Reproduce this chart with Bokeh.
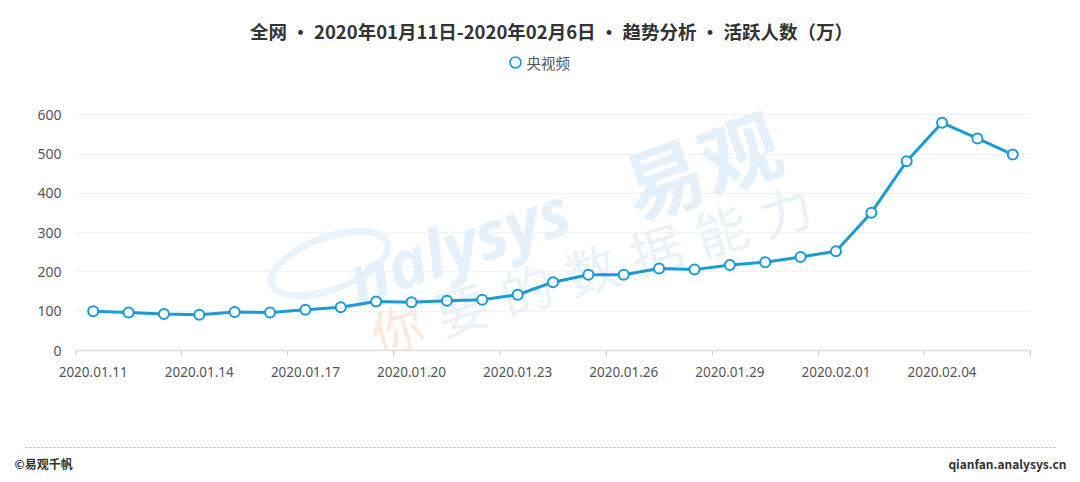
from bokeh.plotting import figure
from bokeh.layouts import column
from bokeh.models import Range1d, FixedTicker
from bokeh.core.properties import value
from bokeh.embed import file_html
from bokeh.resources import INLINE

# ---------------- data ----------------
title_text = "全网 • 2020年01月11日-2020年02月6日 • 趋势分析 • 活跃人数（万）"
series_name = "央视频"
dates = ["2020.01.11", "2020.01.12", "2020.01.13", "2020.01.14", "2020.01.15",
         "2020.01.16", "2020.01.17", "2020.01.18", "2020.01.19", "2020.01.20",
         "2020.01.21", "2020.01.22", "2020.01.23", "2020.01.24", "2020.01.25",
         "2020.01.26", "2020.01.27", "2020.01.28", "2020.01.29", "2020.01.30",
         "2020.01.31", "2020.02.01", "2020.02.02", "2020.02.03", "2020.02.04",
         "2020.02.05", "2020.02.06"]
active_users = [100, 97, 93, 91, 98, 97, 104, 110, 125, 123, 127, 129, 142, 174,
                193, 193, 209, 206, 218, 225, 238, 253, 351, 482, 580, 540, 499]
y_ticks = [0, 100, 200, 300, 400, 500, 600]
label_step = 3
footer_left = "©易观千帆"
footer_right = "qianfan.analysys.cn"
wm_brand = "nalysys"
wm_cn = "易观"
wm_slogan = "你要的数据能力"

BLUE = "#1b9ad8"
CJK = "Noto Sans CJK SC"
W = 1080

# ---------------- header ----------------
HH = 75
head = figure(width=W, height=HH, output_backend="svg", toolbar_location=None,
              x_range=Range1d(0, W), y_range=Range1d(HH, 0),
              min_border=0, outline_line_color=None)
head.frame_align = False
head.axis.visible = False
head.grid.visible = False
head.text(x=[551], y=[30], text=[title_text], text_font=value(CJK),
          text_font_size="18.5px", text_font_style="bold", text_color="#333333",
          text_align="center", text_baseline="middle")
head.scatter(x=[515], y=[62], size=11, fill_color="white", line_color=BLUE, line_width=1.6)
head.text(x=[526], y=[62], text=[series_name], text_font=value(CJK),
          text_font_size="14.5px", text_color="#555555",
          text_align="left", text_baseline="middle")

# ---------------- main chart ----------------
n = len(dates)
xs = list(range(n))
p = figure(width=W, height=361, output_backend="svg", toolbar_location=None,
           x_range=Range1d(-0.5, n - 0.5), y_range=Range1d(0, 680),
           min_border_left=75, min_border_right=50, min_border_top=8,
           min_border_bottom=86, outline_line_color=None)
p.frame_align = False

# watermark (drawn first, under the data)
p.ellipse(x=[6.68], y=[221.6], width=[122], height=[52], angle=0.35,
          width_units="screen", height_units="screen",
          fill_color=None, line_color="#e8f3fb", line_width=7)
p.text(x=[7.25], y=[178], text=[wm_brand], angle=0.33, text_font=value("Open Sans"),
       text_font_size="66px", text_font_style="bold italic", text_color="#e4f1fa",
       text_baseline="alphabetic", text_align="left")
p.text(x=[17.17], y=[479], text=[wm_cn], angle=0.34, text_font=value(CJK),
       text_font_size="80px", text_font_style="bold", text_color="#e4f1fa",
       text_baseline="middle", text_align="center")
sx0, sy0, dx, dy = 8.575, 58.6, 1.832, 50.4
p.text(x=[sx0 + i * dx for i in range(len(wm_slogan))],
       y=[sy0 + i * dy for i in range(len(wm_slogan))],
       text=list(wm_slogan), angle=0.30, text_font=value(CJK), text_font_size="52px",
       text_color=["#fde9dc"] + ["#e9f2f9"] * (len(wm_slogan) - 1),
       text_baseline="middle", text_align="center")

# data
p.line(xs, active_users, line_color=BLUE, line_width=3)
p.scatter(xs, active_users, size=10, fill_color="white", line_color=BLUE, line_width=2)

label_idx = list(range(0, n, label_step))
p.xaxis.ticker = FixedTicker(ticks=label_idx,
                             minor_ticks=[i - 0.5 for i in range(0, n + 1, label_step)])
p.xaxis.major_label_overrides = {i: dates[i] for i in label_idx}
p.xaxis.major_tick_line_color = None
p.xaxis.minor_tick_line_color = "#cccccc"
p.xaxis.minor_tick_out = 5
p.xaxis.minor_tick_in = 0
p.xaxis.axis_line_color = "#dddddd"
p.xaxis.axis_line_width = 1.5
p.xaxis.major_label_standoff = 10
p.xaxis.major_label_text_font = "Noto Sans"
p.xaxis.major_label_text_font_size = "13.5px"
p.xaxis.major_label_text_color = "#555555"

p.yaxis.ticker = FixedTicker(ticks=y_ticks)
p.yaxis.axis_line_color = None
p.yaxis.major_tick_line_color = None
p.yaxis.minor_tick_line_color = None
p.yaxis.major_label_standoff = 8
p.yaxis.major_label_text_font = "Noto Sans"
p.yaxis.major_label_text_font_size = "14px"
p.yaxis.major_label_text_color = "#555555"

p.xgrid.grid_line_color = None
p.ygrid.grid_line_color = "#f2f2f2"
p.ygrid.ticker = FixedTicker(ticks=y_ticks)

# ---------------- footer ----------------
FH = 46
foot = figure(width=W, height=FH, output_backend="svg", toolbar_location=None,
              x_range=Range1d(0, W), y_range=Range1d(FH, 0),
              min_border=0, outline_line_color=None)
foot.frame_align = False
foot.axis.visible = False
foot.grid.visible = False
foot.line(x=[25, 1055], y=[11, 11], line_color="#b5b5b5", line_width=1, line_dash="2 2")
foot.text(x=[14], y=[27], text=[footer_left], text_font=value(CJK), text_font_size="12px",
          text_font_style="bold", text_color="#333333", text_align="left",
          text_baseline="middle")
foot.text(x=[1066], y=[27], text=[footer_right], text_font=value(CJK), text_font_size="12px",
          text_font_style="bold", text_color="#333333", text_align="right",
          text_baseline="middle")

layout = column(head, p, foot, spacing=0)
open("out.html", "w").write(file_html(layout, INLINE))
